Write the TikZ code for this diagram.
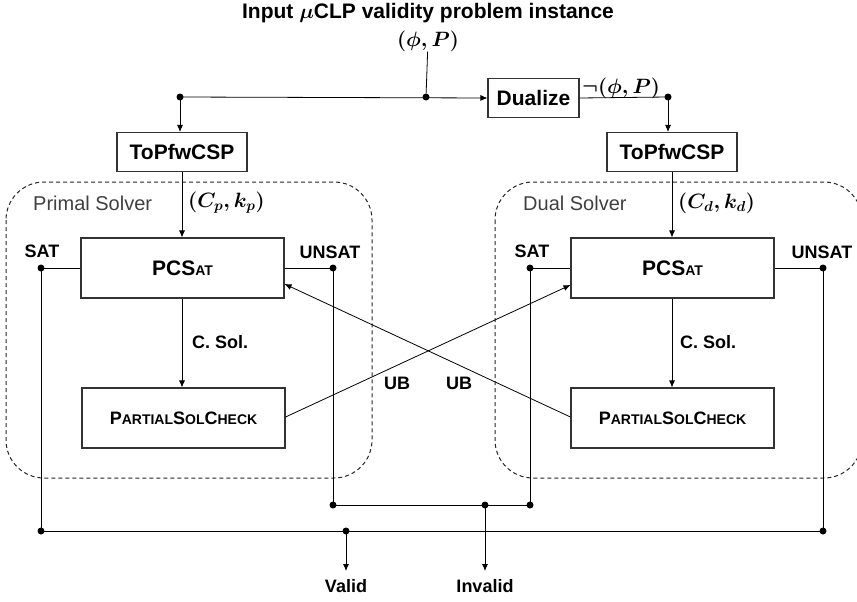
\documentclass[tikz,border=0pt]{standalone}
\usepackage{fontspec}
\setmainfont{Liberation Sans}
\usepackage{bm}
\usetikzlibrary{arrows.meta,calc}
\newcommand{\fsc}[1]{{\fontsize{14}{14}\selectfont #1}}
\begin{document}
\begin{tikzpicture}[x=1pt,y=-1pt,
 box/.style={draw=black!80, line width=1.1pt, minimum width=203pt, minimum height=60pt, inner sep=0pt},
 smallbox/.style={draw=black!80, line width=1.1pt, minimum height=39pt, inner sep=0pt, font=\bfseries\fontsize{21}{24}\selectfont},
 lbl/.style={font=\bfseries\fontsize{18}{20}\selectfont, inner sep=0pt},
 mlbl/.style={font=\boldmath\fontsize{21}{24}\selectfont, inner sep=0pt},
 dot/.style={circle, fill=black, inner sep=0pt, minimum size=7pt},
 arr/.style={-{Latex[length=7pt,width=6pt]}},
 wire/.style={line width=0.8pt},
 region/.style={draw=black!85, dash pattern=on 4pt off 3pt, rounded corners=38pt, line width=1pt},
 solver/.style={font=\fontsize{20}{22}\selectfont, text=black!75, inner sep=0pt, anchor=west}
]
\useasboundingbox (0,0) rectangle (857,602);
% solver regions
\draw[region] (6,182) rectangle (372,478);
\draw[region] (495,182) rectangle (862,478);
\node[solver] (pl) at (33,203) {Primal Solver};
\node[solver] (dl) at (523,203) {Dual Solver};
% top
\node[lbl, font=\bfseries\boldmath\fontsize{21}{23}\selectfont] (title) at (428,13) {Input $\mu$CLP validity problem instance};
\node[mlbl] (input) at (428,41) {$(\phi,P)$};
\node[dot] (j0) at (426,97) {};
\node[dot] (jl) at (180,97) {};
\node[dot] (jr) at (668,97) {};
\node[smallbox, minimum width=91pt] (dual) at (533.5,98) {Dualize};
\node[mlbl, anchor=west] (neg) at (582,88) {$\neg(\phi,P)$};
\node[smallbox, minimum width=130pt] (tp1) at (182,152) {ToPfwCSP};
\node[smallbox, minimum width=130pt] (tp2) at (672,152) {ToPfwCSP};
\node[mlbl, anchor=west] (cp) at (188,203) {$(C_p,k_p)$};
\node[mlbl, anchor=west] (cd) at (678,203) {$(C_d,k_d)$};
% main boxes
\node[box, font=\bfseries\fontsize{21}{24}\selectfont] (pc1) at (182.5,268) {PCS\fsc{AT}};
\node[box, font=\bfseries\fontsize{21}{24}\selectfont] (pc2) at (672.5,268) {PCS\fsc{AT}};
\node[box, font=\bfseries\fontsize{18}{20}\selectfont] (ps1) at (183.5,418) {P\fsc{ARTIAL}S\fsc{OL}C\fsc{HECK}};
\node[box, font=\bfseries\fontsize{18}{20}\selectfont] (ps2) at (672.5,418) {P\fsc{ARTIAL}S\fsc{OL}C\fsc{HECK}};
% labels
\node[lbl] (sat1) at (42,251) {SAT};
\node[lbl] (unsat1) at (330,252) {UNSAT};
\node[lbl] (sat2) at (532,251) {SAT};
\node[lbl] (unsat2) at (822,252) {UNSAT};
\node[lbl, anchor=west] (cs1) at (192,342) {C. Sol.};
\node[lbl, anchor=west] (cs2) at (680,342) {C. Sol.};
\node[lbl] (ub1) at (397,383) {UB};
\node[lbl] (ub2) at (459,383) {UB};
\node[lbl, anchor=north] (valid) at (346,579) {Valid};
\node[lbl, anchor=north] (invalid) at (485,579) {Invalid};
% dots
\node[dot] (ds1) at (41,268) {};
\node[dot] (du1) at (333,268) {};
\node[dot] (ds2) at (530,268) {};
\node[dot] (du2) at (823,268) {};
\node[dot] (b1) at (41,531) {};
\node[dot] (b2) at (823,531) {};
\node[dot] (bv) at (346,531) {};
\node[dot] (u1) at (333,505) {};
\node[dot] (u2) at (530,505) {};
\node[dot] (bi) at (485,505) {};
\coordinate (vend) at (346,571);
\coordinate (iend) at (485,571);
% wires
\draw[wire] (input) -- (j0);
\draw[wire, arr] (jl.center) -- (dual.west);
\draw[wire] (dual.east) -- (jr.center);
\draw[wire, arr] (jl.center) -- (tp1.north -| jl);
\draw[wire, arr] (jr.center) -- (tp2.north -| jr);
\draw[wire, arr] (tp1.south) -- (pc1.north -| tp1.south);
\draw[wire, arr] (tp2.south) -- (pc2.north -| tp2.south);
\draw[wire, arr] (pc1.south -| tp1.south) -- (ps1.north -| tp1.south);
\draw[wire, arr] (pc2.south -| tp2.south) -- (ps2.north -| tp2.south);
\draw[wire] (pc1.west) -- (ds1.center) -- (b1.center) -- (b2.center) -- (du2.center) -- (pc2.east);
\draw[wire] (pc1.east) -- (du1.center) -- (u1.center) -- (u2.center) -- (ds2.center) -- (pc2.west);
\draw[wire, arr] (bv.center) -- (vend);
\draw[wire, arr] (bi.center) -- (iend);
\draw[wire, arr] ([yshift=1pt]ps1.east) -- ([yshift=-17pt]pc2.west);
\draw[wire, arr] ([yshift=1pt]ps2.west) -- ([yshift=-16pt]pc1.east);
\end{tikzpicture}
\end{document}
